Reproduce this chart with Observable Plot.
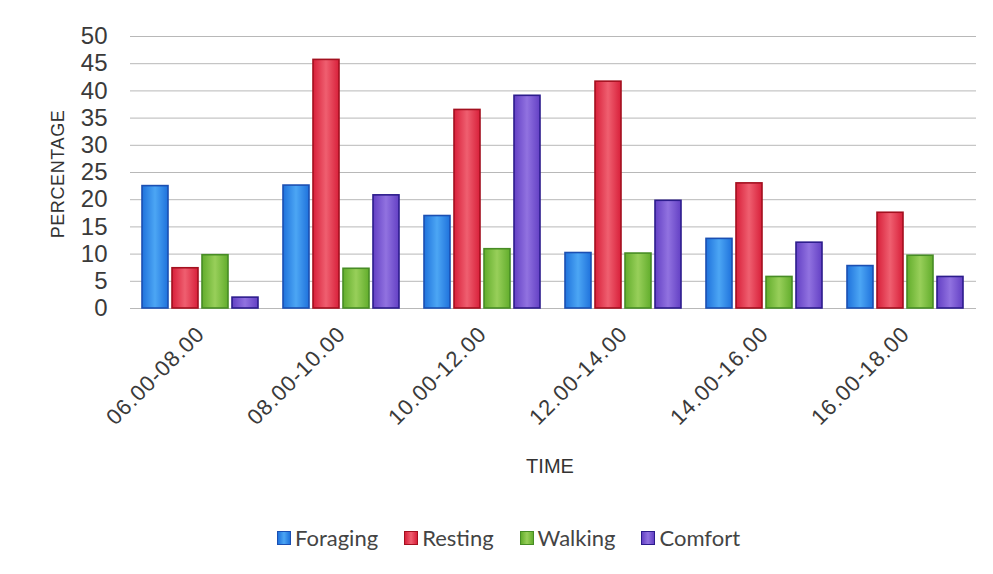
<!DOCTYPE html>
<html>
<head>
<meta charset="utf-8">
<script src="https://cdn.jsdelivr.net/npm/d3@7"></script>
<script src="https://cdn.jsdelivr.net/npm/@observablehq/plot@0.6"></script>
<style>
  html, body { margin: 0; padding: 0; background: #fff; }
  #chart { width: 993px; }
  .legend { display: flex; justify-content: center; gap: 26px; font-family: Lato, "Open Sans", sans-serif; font-size: 22px; color: #444; margin-top: 24px; padding-left: 24px; }
  .legend span.item { display: flex; align-items: center; gap: 4px; }
  .legend span.sw { width: 12px; height: 12px; border: 1.5px solid; display: inline-block; }
</style>
</head>
<body>
<div id="chart"></div>
<script>
const times = ["06.00-08.00", "08.00-10.00", "10.00-12.00", "12.00-14.00", "14.00-16.00", "16.00-18.00"];
const behaviors = ["Foraging", "Resting", "Walking", "Comfort"];
const foraging = [22.5, 22.6, 17.0, 10.2, 12.8, 7.8];
const resting  = [7.4, 45.7, 36.5, 41.7, 23.0, 17.6];
const walking  = [9.8, 7.3, 10.9, 10.1, 5.8, 9.7];
const comfort  = [2.0, 20.8, 39.1, 19.8, 12.1, 5.8];
const yTicks = [0, 5, 10, 15, 20, 25, 30, 35, 40, 45, 50];

const seriesValues = [foraging, resting, walking, comfort];
const data = [];
times.forEach((t, i) => behaviors.forEach((b, j) => data.push({time: t, behavior: b, value: seriesValues[j][i]})));

const grads = [
  {id: "gF", edge: "#1f72dc", mid: "#4ca6f4", stroke: "#1b4fb2"},
  {id: "gR", edge: "#d8203a", mid: "#ef5f70", stroke: "#a3101f"},
  {id: "gW", edge: "#62ad2c", mid: "#98cf5a", stroke: "#478c25"},
  {id: "gC", edge: "#6340c4", mid: "#9172e0", stroke: "#2c1c8c"}
];

const chart = Plot.plot({
  width: 993,
  height: 500,
  marginTop: 36,
  marginBottom: 192,
  marginLeft: 130,
  marginRight: 17,
  style: {fontFamily: "'Liberation Sans', Arial, sans-serif", color: "#333", background: "#fff"},
  fx: {domain: times, padding: 0, axis: null},
  x: {domain: behaviors, axis: null, paddingInner: 0.13, paddingOuter: 0.415},
  y: {domain: [0, 50], axis: null},
  color: {domain: behaviors, range: grads.map(g => `url(#${g.id})`)},
  marks: [
    Plot.gridY(yTicks, {stroke: "#b8b8b8", strokeOpacity: 1, strokeWidth: 1}),
    Plot.barY(data, {fx: "time", x: "behavior", y: "value", fill: "behavior",
      stroke: d => grads[behaviors.indexOf(d.behavior)].stroke, strokeWidth: 1.6, inset: 0}),
    Plot.axisY(yTicks, {tickSize: 0, tickPadding: 23, fontSize: 24, fill: "#3a3a3a", tickFormat: d => String(d), label: null}),
    Plot.axisFx({anchor: "bottom", tickRotate: -45, tickSize: 0, tickPadding: 22, fontSize: 22, fill: "#3a3a3a", label: null})
  ]
});

const ns = "http://www.w3.org/2000/svg";
const svg = chart.tagName.toLowerCase() === "svg" ? chart : chart.querySelector("svg");
// gradients
const defs = document.createElementNS(ns, "defs");
grads.forEach(g => {
  const lg = document.createElementNS(ns, "linearGradient");
  lg.setAttribute("id", g.id);
  lg.setAttribute("x1", "0"); lg.setAttribute("x2", "1"); lg.setAttribute("y1", "0"); lg.setAttribute("y2", "0");
  [[0, g.edge], [0.5, g.mid], [1, g.edge]].forEach(([o, c]) => {
    const s = document.createElementNS(ns, "stop");
    s.setAttribute("offset", o); s.setAttribute("stop-color", c);
    lg.appendChild(s);
  });
  defs.appendChild(lg);
});
svg.insertBefore(defs, svg.firstChild);
// widen rotated x labels a little
svg.querySelectorAll('[aria-label="fx-axis tick label"] text').forEach(t => t.setAttribute("letter-spacing", "1"));
// axis titles
function addTitle(txt, x, y, rot, size, ls) {
  const t = document.createElementNS(ns, "text");
  t.setAttribute("text-anchor", "middle");
  t.setAttribute("dominant-baseline", "middle");
  t.setAttribute("font-size", size);
  t.setAttribute("letter-spacing", ls);
  t.setAttribute("fill", "#333");
  t.setAttribute("transform", `translate(${x},${y}) rotate(${rot})`);
  t.textContent = txt;
  svg.appendChild(t);
}
addTitle("TIME", 550, 468, 0, 20, 0);
addTitle("PERCENTAGE", 59, 174, -90, 18, 0.6);
document.getElementById("chart").appendChild(chart);

// legend
const legend = document.createElement("div");
legend.className = "legend";
behaviors.forEach((b, j) => {
  const item = document.createElement("span");
  item.className = "item";
  const sw = document.createElement("span");
  sw.className = "sw";
  sw.style.background = `linear-gradient(90deg, ${grads[j].edge}, ${grads[j].mid}, ${grads[j].edge})`;
  sw.style.borderColor = grads[j].stroke;
  const t = document.createElement("span");
  t.textContent = b;
  item.appendChild(sw); item.appendChild(t);
  legend.appendChild(item);
});
document.getElementById("chart").appendChild(legend);
</script>
</body>
</html>
